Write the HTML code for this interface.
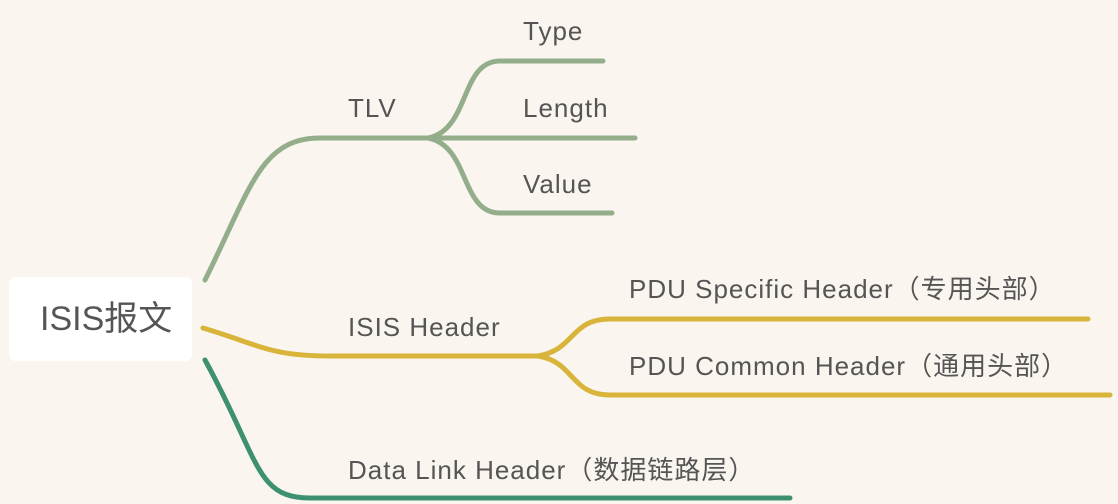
<!DOCTYPE html>
<html><head><meta charset="utf-8"><style>
html,body{margin:0;padding:0;background:#faf6ef;}
.wrap{position:relative;width:1118px;height:504px;overflow:hidden;background:#faf6ef;}
svg{position:absolute;left:0;top:0;}
.root{position:absolute;left:9px;top:277px;width:183px;height:84px;background:#fff;border-radius:7px;}
.t{position:absolute;font-family:"Liberation Sans","Noto Sans CJK SC",sans-serif;color:#555;font-size:26px;white-space:nowrap;line-height:1;letter-spacing:1px;}
</style></head><body><div class="wrap">
<svg width="1118" height="504" fill="none" stroke-linecap="round" stroke-width="5">
<g stroke="#94ae8c">
<path d="M205 280 C250 190 260 138 320 138 L428 138"/>
<path d="M428 138 C470 130 460 61 500 61 L603 61"/>
<path d="M428 138 L635 138"/>
<path d="M428 138 C470 146 460 213 500 213 L612 213"/>
</g>
<g stroke="#d9b43a">
<path d="M203 328 C260 345 270 356 330 356 L538 356"/>
<path d="M538 356 C575 350 570 319 610 319 L1088 319"/>
<path d="M538 356 C575 362 570 395 610 395 L1110 395"/>
</g>
<path stroke="#3d9170" d="M205 360 C260 460 255 498 310 498 L790 498"/>
</svg>
<div class="root"></div>
<div class="t" style="left:40px;top:302px;font-size:34px;letter-spacing:0;">ISIS报文</div>
<div class="t" style="left:348px;top:95px;">TLV</div>
<div class="t" style="left:523px;top:18px;">Type</div>
<div class="t" style="left:523px;top:95px;">Length</div>
<div class="t" style="left:523px;top:171px;">Value</div>
<div class="t" style="left:348px;top:314px;">ISIS Header</div>
<div class="t" style="left:629px;top:276px;">PDU Specific Header（专用头部）</div>
<div class="t" style="left:629px;top:353px;">PDU Common Header（通用头部）</div>
<div class="t" style="left:348px;top:457px;">Data Link Header（数据链路层）</div>
</div></body></html>
